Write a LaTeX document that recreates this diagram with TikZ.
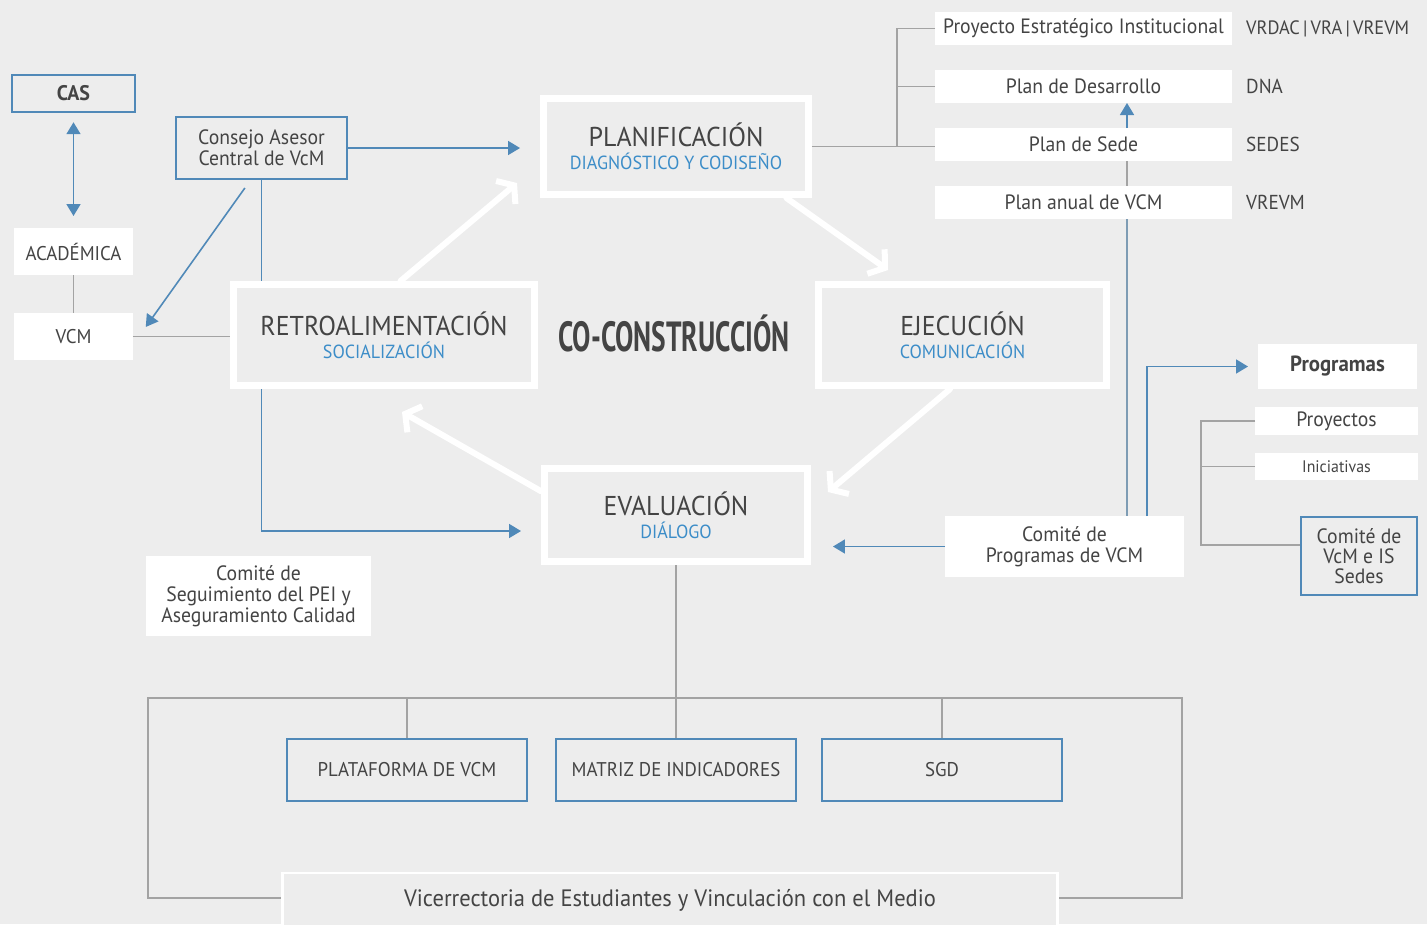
\documentclass[tikz,border=0pt]{standalone}
\usepackage{fontspec}
\setmainfont{PT Sans}[FakeStretch=0.95]
\newfontfamily\bigcond{PT Sans}[FakeStretch=0.65]
\usetikzlibrary{arrows.meta,calc}
\definecolor{fondo}{HTML}{EDEDED}
\definecolor{azul}{HTML}{5089B8}
\definecolor{subazul}{HTML}{3C8DC8}
\definecolor{texto}{HTML}{444444}
\definecolor{gris}{HTML}{A3A3A3}
\definecolor{grisazul}{HTML}{7E9CB4}
\newcommand{\subtit}[1]{{\color{subazul}\fontsize{10.8}{12}\selectfont #1}}

\begin{document}
\begin{tikzpicture}[x=0.02cm,y=-0.02cm,
    caja/.style={fill=white,text=texto,align=center,inner sep=0pt,outer sep=0pt,
      font=\fontsize{11.8}{12}\selectfont},
    cajaazul/.style={draw=azul,line width=1.4pt,fill=fondo,text=texto,align=center,
      inner sep=0pt,font=\fontsize{11.8}{12}\selectfont},
    etapa/.style={draw=white,line width=0.14cm,fill=fondo,text=texto,align=center,
      inner sep=0pt,font=\fontsize{15.5}{13.3}\selectfont},
    rotulo/.style={anchor=west,text=texto,font=\fontsize{11.5}{12}\selectfont},
    linea/.style={draw=gris,line width=0.7pt},
    lineaazul/.style={draw=grisazul,line width=1.2pt},
    flecha/.style={draw=azul,line width=0.9pt,-{Triangle[length=0.24cm,width=0.28cm]}},
    giro/.style={draw=white,line width=0.12cm,line cap=round,
      -{Straight Barb[length=0.22cm,width=0.6cm]}}]
  \useasboundingbox[fill=fondo] (0,0) rectangle (1427,924);

  % izquierda
  \node[cajaazul,minimum width=2.46cm,minimum height=0.74cm,font=\bfseries\fontsize{12}{12}\selectfont] (cas) at (73.5,93.5) {CAS};
  \node[caja,minimum width=2.38cm,minimum height=0.94cm,font=\fontsize{11.3}{12}\selectfont] (acad) at (73.5,251.5) {ACADÉMICA};
  \node[caja,minimum width=2.38cm,minimum height=0.94cm,font=\fontsize{11.3}{12}\selectfont] (vcm) at (73.5,336.5) {VCM};
  \node[cajaazul,minimum width=3.42cm,minimum height=1.24cm] (consejo) at (261.5,148) {Consejo Asesor\\Central de VcM};
  \node[caja,minimum width=4.5cm,minimum height=1.6cm] (segui) at (258.5,596) {Comité de\\Seguimiento del PEI y\\Aseguramiento Calidad};

  % ciclo
  \node[etapa,minimum width=5.26cm,minimum height=1.86cm] (eval) at (676,515) {EVALUACIÓN\\\subtit{DIÁLOGO}};
  \draw[flecha] (consejo.south) |- ($(eval.west)+(-20,16)$);
  \node[etapa,minimum width=5.30cm,minimum height=1.92cm] (plan) at (676,146.5) {PLANIFICACIÓN\\\subtit{DIAGNÓSTICO Y CODISEÑO}};
  \node[etapa,minimum width=6.02cm,minimum height=2.02cm] (retro) at (384,335) {RETROALIMENTACIÓN\\\subtit{SOCIALIZACIÓN}};
  \node[etapa,minimum width=5.76cm,minimum height=2.02cm] (ejec) at (962.5,335) {EJECUCIÓN\\\subtit{COMUNICACIÓN}};
  \node[text=texto,font=\bigcond\bfseries\fontsize{24}{26}\selectfont] (cocon) at (674,333) {CO-CONSTRUCCIÓN};

  % planes
  \node[caja,minimum width=5.94cm,minimum height=0.66cm] (pei) at (1083.5,28.5) {Proyecto Estratégico Institucional};
  \node[caja,minimum width=5.94cm,minimum height=0.66cm] (desa) at (1083.5,86.5) {Plan de Desarrollo};
  \node[caja,minimum width=5.94cm,minimum height=0.66cm] (sede) at (1083.5,144.5) {Plan de Sede};
  \node[caja,minimum width=5.94cm,minimum height=0.66cm] (anual) at (1083.5,202.5) {Plan anual de VCM};
  \node[rotulo,font=\fontsize{11}{12}\selectfont] (e-pei) at (1240,28.5) {VRDAC\,|\,VRA\,|\,VREVM};
  \node[rotulo] (e-desa) at (1240,86.5) {DNA};
  \node[rotulo] (e-sede) at (1240,144.5) {SEDES};
  \node[rotulo] (e-anual) at (1240,202.5) {VREVM};

  % programas
  \node[caja,minimum width=3.18cm,minimum height=0.9cm,font=\bfseries\fontsize{12.5}{12}\selectfont] (prog) at (1337.5,366.5) {Programas};
  \node[caja,minimum width=3.26cm,minimum height=0.56cm] (proy) at (1336.5,421) {Proyectos};
  \node[caja,minimum width=3.26cm,minimum height=0.54cm,font=\fontsize{9.5}{10}\selectfont] (inic) at (1336.5,466.5) {Iniciativas};
  \node[cajaazul,minimum width=2.32cm,minimum height=1.56cm,font=\fontsize{11.8}{11.4}\selectfont] (comvcm) at (1359,556) {Comité de\\VcM e IS\\Sedes};
  \node[caja,minimum width=4.78cm,minimum height=1.22cm] (comprog) at (1064.5,546.5) {Comité de\\Programas de VCM};

  % marco inferior
  \coordinate (fr) at (148,698);
  \draw[linea] (fr) rectangle (1182,898);
  \node[cajaazul,minimum width=4.8cm,minimum height=1.24cm,font=\fontsize{11.3}{12}\selectfont] (plat) at (407,770) {PLATAFORMA DE VCM};
  \node[cajaazul,minimum width=4.8cm,minimum height=1.24cm,font=\fontsize{11.3}{12}\selectfont] (matriz) at (676,770) {MATRIZ DE INDICADORES};
  \node[cajaazul,minimum width=4.8cm,minimum height=1.24cm,font=\fontsize{11.3}{12}\selectfont] (sgd) at (942,770) {SGD};
  \node[draw=white,line width=1.5pt,fill=fondo,text=texto,minimum width=15.5cm,minimum height=1.08cm,
    font=\fontsize{13.5}{14}\selectfont] (vice) at (670,900) {Vicerrectoria de Estudiantes y Vinculación con el Medio};

  % conexiones grises
  \draw[linea] (acad) -- (vcm);
  \draw[linea] (vcm.east) -- (vcm.east -| retro.west);
  \coordinate (r0) at (897,147);
  \draw[linea] (plan.east) -- (plan.east -| sede.west);
  \draw[linea] (pei.west) -| (r0);
  \draw[linea] (desa.west) -| (r0);
  \coordinate (c1) at (1127,0);
  \coordinate (c2) at (1147,0);
  \draw[linea] (sede.south -| c1) -- (anual.north -| c1);
  \draw[lineaazul] (anual.south -| c1) -- (comprog.north -| c1);
  \coordinate (r1) at (1201,545);
  \draw[linea] (proy.west) -| (r1) -- (r1 -| comvcm.west);
  \draw[linea] (inic.west) -| (r1);
  \draw[linea] (eval.south) -- (eval.south |- fr);
  \foreach \n in {plat,matriz,sgd}
    \draw[linea] (\n.north) -- (\n.north |- fr);

  % flechas azules
  \draw[flecha,{Triangle[length=0.24cm,width=0.28cm]}-{Triangle[length=0.24cm,width=0.28cm]},
    shorten <=0.18cm,shorten >=0.24cm] (cas) -- (acad);
  \draw[flecha,shorten >=0.4cm] (consejo.east) -- (consejo.east -| plan.west);
  \draw[flecha,shorten <=0.19cm,shorten >=0.44cm] (consejo.-109) -- (vcm.-8);
  \draw[flecha,shorten >=0.44cm] (comprog.west) -- (comprog.west -| eval.east);
  \draw[flecha] (sede.north -| c1) -- (desa.south -| c1);
  \draw[flecha,shorten >=0.2cm] (comprog.north -| c2) |- (prog.west);

  % ciclo de flechas blancas
  \coordinate (t1) at (517,183);
  \coordinate (t2) at (888,270);
  \coordinate (t3) at (828,492);
  \coordinate (t4) at (402,412);
  \draw[giro] (retro.73) -- (t1);
  \draw[giro] (plan.-25) -- (t2);
  \draw[giro] (ejec.-103) -- (t3);
  \draw[giro] (eval.170) -- (t4);
\end{tikzpicture}
\end{document}
